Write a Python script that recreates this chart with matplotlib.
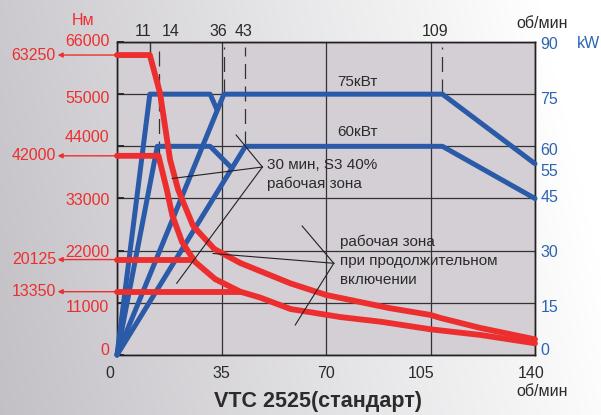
import numpy as np
import matplotlib.pyplot as plt
import matplotlib.transforms as mtransforms

plt.rcParams['font.family'] = ['Liberation Sans', 'DejaVu Sans']

RED = '#EC2F2E'
BLUE = '#2A5AA8'
BLUE_TXT = '#2C64B2'
TXT = '#2B2B2B'
GRID = '#333333'

# axes ticks
x_ticks = [0, 35, 70, 105, 140]
nm_ticks = [0, 11000, 22000, 33000, 44000, 55000, 66000]
kw_ticks = [0, 15, 30, 45, 55, 60, 75, 90]

# marked speeds on top
top_marks = [11, 14, 36, 43, 109]
top_label_x = [8.8, 18.0, 33.8, 42.4, 106.5]

# torque levels called out on the left
nm_callouts = [63250, 42000, 20125, 13350]

# torque curves (об/мин, Нм)
s3_hi_rpm = [0, 11, 14.4, 17.8, 20.5, 25.5, 32.6, 41.3, 48.7, 58.1, 70.1, 91.6, 105, 108.4, 121.8, 140]
s3_hi_nm = [63250, 63250, 55250, 41100, 34800, 27200, 22350, 19400, 17500, 15100, 12650, 9850, 8450, 7800, 5690, 3300]

s3_lo_rpm = [0, 13.9, 16.7, 18.5, 21.8, 26.2, 32.9, 41.3, 48.0, 58.1, 74.8, 88.3, 105, 121.8, 140]
s3_lo_nm = [42000, 42000, 34800, 29500, 23800, 19600, 16000, 13350, 12100, 9700, 8000, 7020, 5420, 4220, 2470]

cont_hi_rpm = [0, 25.6]
cont_hi_nm = [20125, 20125]
cont_lo_rpm = [0, 41.3]
cont_lo_nm = [13350, 13350]

# power curves (об/мин, кВт)
p75_s3_rpm = [0, 11, 31.2, 33.5]
p75_s3_kw = [0, 75, 75, 70.5]
p75_rpm = [0, 35.8, 109, 140]
p75_kw = [0, 75, 75, 55]
p60_s3_rpm = [0, 13.5, 31.2, 38.5]
p60_s3_kw = [0, 60, 60, 53.7]
p60_rpm = [0, 43, 109, 140]
p60_kw = [0, 60, 60, 45]

fig = plt.figure(figsize=(6.01, 4.15), dpi=100)

# background gradient
bg = fig.add_axes([0, 0, 1, 1], zorder=-10)
gx, gy = np.meshgrid(np.linspace(0, 1, 300), np.linspace(0, 1, 200))
t = np.clip(0.95 * gx + 0.15 * (1 - gy), 0, 1)[..., None]
c0 = np.array([0.765, 0.755, 0.775])
c1 = np.array([1.0, 1.0, 1.0])
bg.imshow(c0 + (c1 - c0) * t, aspect='auto', extent=[0, 1, 0, 1])
bg.axis('off')

ax = fig.add_axes([117 / 601, 60 / 415, 418 / 601, 313 / 415])
ax.set_facecolor('#D4CED5')
ax2 = ax.twinx()

ax.set_xlim(0, 140)
ax.set_ylim(0, 66000)
ax2.set_ylim(0, 90)

ax.set_xticks(x_ticks)
ax.set_yticks(nm_ticks)
ax.grid(True, color=GRID, lw=0.9)
ax.set_axisbelow(True)
for sp in list(ax.spines.values()) + list(ax2.spines.values()):
    sp.set_color('#222222')
    sp.set_linewidth(1.0)

ax.tick_params(axis='y', direction='in', length=5, width=1.3, color='#222222',
               labelcolor=RED, labelsize=11.5, pad=5.5)
ax.tick_params(axis='x', direction='in', length=0, labelcolor=TXT, labelsize=11.5, pad=8)
ax2.set_yticks(kw_ticks)
ax2.tick_params(axis='y', length=0, labelcolor=BLUE_TXT, labelsize=11.5, pad=4)

# small shifts of tick labels as in the reference (pixels)
def shift(lbl, dx, dy):
    lbl.set_transform(lbl.get_transform() +
                      mtransforms.ScaledTranslation(dx / 100, dy / 100, fig.dpi_scale_trans))

for lbl, dy in zip(ax.get_yticklabels(), [6, -3, 0, 0, 10, -3, 2]):
    shift(lbl, 0, dy)
for lbl, dy in zip(ax2.get_yticklabels(), [6, -3, 0, 2, -6, -3, -4, -1]):
    shift(lbl, 0, dy)
for lbl, dx in zip(ax.get_xticklabels(), [-7, 0, 0, -9, -4]):
    shift(lbl, dx, 0)

# power lines (right axis)
bkw = dict(color=BLUE, lw=3.6, solid_capstyle='round', zorder=3, clip_on=False)
ax2.plot(p75_s3_rpm, p75_s3_kw, **bkw)
ax2.plot(p75_rpm, p75_kw, **bkw)
ax2.plot(p60_s3_rpm, p60_s3_kw, **bkw)
ax2.plot(p60_rpm, p60_kw, **bkw)

# torque lines (left axis), drawn above the blue ones
rkw = dict(color=RED, lw=4.2, solid_capstyle='round', zorder=4, clip_on=False,
           transform=ax.transData)
ax2.plot(s3_hi_rpm, s3_hi_nm, **rkw)
ax2.plot(s3_lo_rpm, s3_lo_nm, **rkw)
ax2.plot(cont_hi_rpm, cont_hi_nm, **rkw)
ax2.plot(cont_lo_rpm, cont_lo_nm, **rkw)

# marks of the corner speeds
dkw = dict(color=GRID, lw=0.9, linestyle=(0, (12, 6)), zorder=2)
ax.plot([14, 14], [42000, 65000], **dkw)
ax2.plot([36, 36], [75, 88.5], **dkw)
ax2.plot([43, 43], [60, 88.5], **dkw)
ax2.plot([109, 109], [75, 88.5], **dkw)
ax.plot([11, 11], [63250, 66000], color=GRID, lw=1.0, zorder=2)

top = mtransforms.blended_transform_factory(ax.transData, ax.transAxes)
for xl, m in zip(top_label_x, top_marks):
    ax.text(xl, 1.033, str(m), transform=top, ha='center', va='center',
            fontsize=11.5, color=TXT)

# callouts of torque values on the left
left = mtransforms.blended_transform_factory(ax.transAxes, ax.transData)
for v in nm_callouts:
    ax.annotate('', xy=(-0.142, v), xycoords=left, xytext=(0, v), textcoords=left,
                arrowprops=dict(arrowstyle='-|>', color=RED, lw=1.0,
                                mutation_scale=7, shrinkA=0, shrinkB=0),
                annotation_clip=False)
    ax.text(-0.146, v, str(v), transform=left, ha='right', va='center',
            fontsize=11.5, color=RED)

# labels inside the chart
ax.text(73.7, 57630, '75кВт', fontsize=11, color=TXT, va='center')
ax.text(73.7, 47090, '60кВт', fontsize=11, color=TXT, va='center')
ax.text(50.4, 40060, '30 мин, S3 40%', fontsize=11, color=TXT, va='center')
ax.text(50.4, 36200, 'рабочая зона', fontsize=11, color=TXT, va='center')
ax.text(74.6, 23890, 'рабочая зона', fontsize=11, color=TXT, va='center')
ax.text(74.6, 19880, 'при продолжительном', fontsize=11, color=TXT, va='center')
ax.text(74.6, 15810, 'включении', fontsize=11, color=TXT, va='center')

# leader lines
lkw = dict(color='#222222', lw=0.8, zorder=5)
for end in [(39.9, 46390), (18.5, 37220), (20.0, 15120)]:
    ax2.plot([48.7, end[0]], [39640, end[1]], transform=ax.transData, **lkw)
for end in [(62.0, 27200), (32.2, 21400), (59.7, 6330)]:
    ax2.plot([72.6, end[0]], [19340, end[1]], transform=ax.transData, **lkw)

# axis titles
ax.text(-0.081, 1.070, 'Нм', transform=ax.transAxes, ha='center', va='center',
        fontsize=11.5, color=RED)
ax.text(1.016, 1.060, 'об/мин', transform=ax.transAxes, ha='center', va='center',
        fontsize=11.5, color=TXT)
ax.text(1.127, 0.996, 'kW', transform=ax.transAxes, ha='center', va='center',
        fontsize=11.5, color=BLUE_TXT)
ax.text(1.016, -0.117, 'об/мин', transform=ax.transAxes, ha='center', va='center',
        fontsize=11.5, color=TXT)
ax.text(0.481, -0.149, 'VTC 2525(стандарт)', transform=ax.transAxes, ha='center',
        va='center', fontsize=15.5, fontweight='bold', color=TXT)

ax2.set_ylim(0, 90)
ax.set_xlim(0, 140)
fig.savefig('out.png', dpi=100)
